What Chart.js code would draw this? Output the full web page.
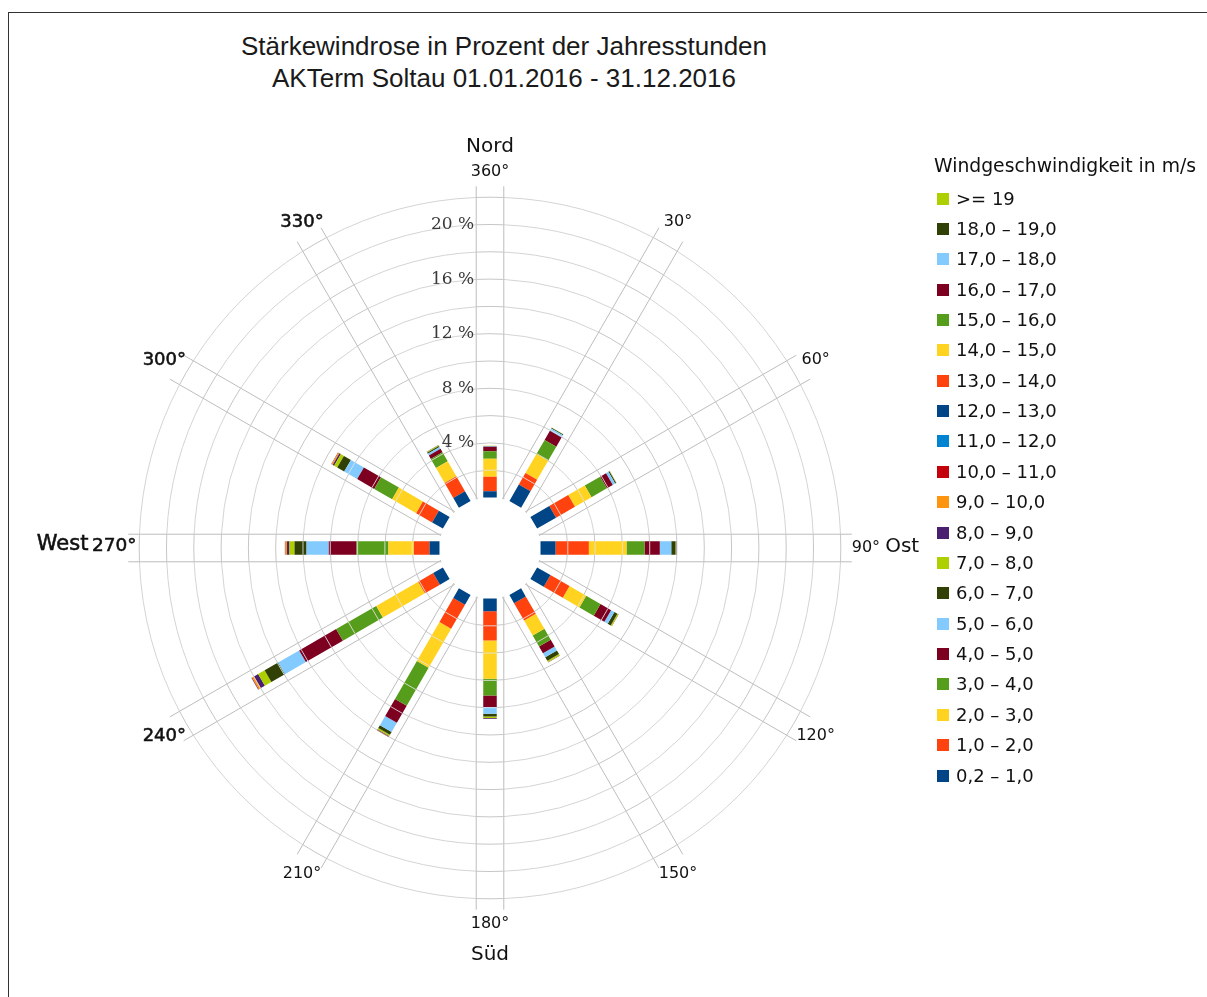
<!DOCTYPE html>
<html>
<head>
<meta charset="utf-8">
<script src="https://cdn.jsdelivr.net/npm/chart.js@4.4.0/dist/chart.umd.min.js"></script>
<style>
  html, body { margin:0; padding:0; background:#fff; width:1207px; height:997px; overflow:hidden; }
  #frame { position:absolute; left:8px; top:12px; width:1400px; height:1200px; border-left:1px solid #333; border-top:1px solid #333; }
  #c { position:absolute; left:0; top:0; }
  #title { position:absolute; left:4px; top:30px; width:1000px; text-align:center; font-family:"Liberation Sans", Arial, sans-serif; font-size:26px; line-height:32px; color:#1a1a1a; }
  .lg { position:absolute; font-family:"DejaVu Sans", sans-serif; font-size:18px; line-height:22px; color:#111; white-space:nowrap; }
  .lgh { font-size:18.8px; }
  .sw { position:absolute; width:12px; height:12px; }
</style>
</head>
<body>
<div id="frame"></div>
<div id="title">Stärkewindrose in Prozent der Jahresstunden<br>AKTerm Soltau 01.01.2016 - 31.12.2016</div>
<canvas id="c" width="1207" height="997"></canvas>
<div id="legend"></div>
<script>
// ---------- DATA ----------
const directions = [0, 30, 60, 90, 120, 150, 180, 210, 240, 270, 300, 330];
const dirLabels = ['360°', '30°', '60°', '90°', '120°', '150°', '180°', '210°', '240°', '270°', '300°', '330°'];
const compassLabels = ['Nord', 'Ost', 'Süd', 'West'];
const legendTitle = 'Windgeschwindigkeit in m/s';
const speedClasses = ['0,2 – 1,0', '1,0 – 2,0', '2,0 – 3,0', '3,0 – 4,0', '4,0 – 5,0', '5,0 – 6,0',
  '6,0 – 7,0', '7,0 – 8,0', '8,0 – 9,0', '9,0 – 10,0', '10,0 – 11,0', '11,0 – 12,0', '12,0 – 13,0',
  '13,0 – 14,0', '14,0 – 15,0', '15,0 – 16,0', '16,0 – 17,0', '17,0 – 18,0', '18,0 – 19,0', '>= 19'];
const gridSteps = [2, 4, 6, 8, 10, 12, 14, 16, 18, 20, 22];
const tickSteps = [4, 8, 12, 16, 20];

// percent of year hours per direction (order = directions)
const p0_1   = [0.46, 1.38, 1.60, 1.10, 1.13, 0.68, 0.93, 0.82, 0.82, 0.73, 0.91, 0.82];
const p1_2   = [1.06, 0.97, 1.60, 2.44, 1.61, 1.47, 2.15, 2.03, 1.27, 1.14, 1.35, 1.27];
const p2_3   = [1.32, 1.61, 1.40, 2.76, 1.41, 1.26, 2.80, 3.30, 3.55, 1.87, 2.03, 1.26];
const p3_4   = [0.55, 1.20, 1.30, 1.32, 1.21, 0.93, 1.23, 3.21, 3.39, 2.34, 1.52, 0.77];
const p4_5   = [0.32, 0.77, 0.50, 1.12, 0.90, 0.57, 0.84, 1.44, 3.13, 2.03, 1.44, 0.28];
const p5_6   = [0.05, 0.20, 0.20, 0.84, 0.28, 0.34, 0.50, 0.77, 1.78, 1.63, 1.10, 0.15];
const p6_7   = [0.02, 0.05, 0.08, 0.31, 0.25, 0.30, 0.20, 0.25, 1.14, 0.88, 0.59, 0.10];
const p7_8   = [0.01, 0.02, 0.03, 0.04, 0.08, 0.10, 0.10, 0.10, 0.55, 0.37, 0.26, 0.05];
const p8_9   = [0.00, 0.01, 0.01, 0.02, 0.02, 0.03, 0.05, 0.05, 0.34, 0.18, 0.12, 0.02];
const p9_10  = [0.00, 0.00, 0.00, 0.01, 0.01, 0.01, 0.02, 0.02, 0.16, 0.11, 0.09, 0.01];
const p10_11 = [0, 0, 0, 0, 0, 0, 0, 0.01, 0.05, 0.04, 0.03, 0];
const p11_12 = [0, 0, 0, 0, 0, 0, 0, 0, 0.02, 0.01, 0.01, 0];
const p12_13 = [0, 0, 0, 0, 0, 0, 0, 0, 0, 0, 0, 0];
const p13_14 = [0, 0, 0, 0, 0, 0, 0, 0, 0, 0, 0, 0];
const p14_15 = [0, 0, 0, 0, 0, 0, 0, 0, 0, 0, 0, 0];
const p15_16 = [0, 0, 0, 0, 0, 0, 0, 0, 0, 0, 0, 0];
const p16_17 = [0, 0, 0, 0, 0, 0, 0, 0, 0, 0, 0, 0];
const p17_18 = [0, 0, 0, 0, 0, 0, 0, 0, 0, 0, 0, 0];
const p18_19 = [0, 0, 0, 0, 0, 0, 0, 0, 0, 0, 0, 0];
const p19    = [0, 0, 0, 0, 0, 0, 0, 0, 0, 0, 0, 0];
const seriesValues = [p0_1, p1_2, p2_3, p3_4, p4_5, p5_6, p6_7, p7_8, p8_9, p9_10, p10_11, p11_12,
  p12_13, p13_14, p14_15, p15_16, p16_17, p17_18, p18_19, p19];

// ---------- STYLE / GEOMETRY ----------
const classColors = ['#004586', '#ff420e', '#ffd320', '#579d1c', '#7e0021', '#83caff', '#314004', '#aecf00',
  '#4b1f6f', '#ff950e', '#c5000b', '#0084d1', '#004586', '#ff420e', '#ffd320', '#579d1c', '#7e0021',
  '#83caff', '#314004', '#aecf00'];
const W = 1207, H = 997;
const CX = 490, CY = 548;      // pole position on the page
const PX = 13.65;              // pixels per percent
const HOLE = 3.7;              // empty centre, in percent units
const BAND = 1.01;             // half width of a direction band, percent units
const BAR = 13.5;              // bar thickness, px
const SPOKE_EXT = 0.8;         // spoke overhang beyond outer ring
const LABEL_R = 27.55;         // direction label radius

// ---------- DATASETS ----------
const rad = d => d * Math.PI / 180;
const datasets = seriesValues.map((vals, k) => {
  const data = [];
  directions.forEach((deg, d) => {
    const v = vals[d];
    if (!(v > 0)) return;
    let base = HOLE;
    for (let j = 0; j < k; j++) base += seriesValues[j][d];
    const t = rad(deg);
    data.push({ x: base * Math.sin(t), y: base * Math.cos(t) });
    data.push({ x: (base + v) * Math.sin(t), y: (base + v) * Math.cos(t) });
    data.push({ x: null, y: null });
  });
  return {
    label: speedClasses[k], data, showLine: true, spanGaps: false,
    borderColor: classColors[k], backgroundColor: classColors[k],
    borderWidth: BAR, borderCapStyle: 'butt', borderJoinStyle: 'bevel',
    borderDash: [100000, 1],   // forces the plain path renderer (no x-sorted fast path)
    pointRadius: 0, pointHoverRadius: 0, tension: 0, clip: false
  };
});

function geom(chart) {
  const x = chart.scales.x, y = chart.scales.y;
  const cx = x.getPixelForValue(0), cy = y.getPixelForValue(0);
  const u = x.getPixelForValue(1) - cx;
  return { cx, cy, u };
}

const rosePlugin = {
  id: 'rose',
  beforeDatasetsDraw(chart) {
    const { ctx } = chart;
    const g = geom(chart);
    const b = BAND * g.u;
    ctx.save();
    // rings between bands
    ctx.strokeStyle = '#d4d4d4';
    ctx.lineWidth = 1;
    gridSteps.forEach(v => {
      const r = (HOLE + v) * g.u;
      const a = Math.asin(b / r);
      directions.forEach((deg, i) => {
        const next = i === directions.length - 1 ? directions[0] + 360 : directions[i + 1];
        ctx.beginPath();
        ctx.arc(g.cx, g.cy, r, rad(deg - 90) + a, rad(next - 90) - a);
        ctx.stroke();
      });
    });
    // band edges and cross ticks
    const gmax = gridSteps[gridSteps.length - 1];
    directions.forEach(deg => {
      const t = rad(deg);
      const ux = Math.sin(t), uy = -Math.cos(t), nx = Math.cos(t), ny = Math.sin(t);
      const hole = HOLE * g.u;
      const r0 = Math.sqrt(hole * hole - b * b);
      const r1 = (HOLE + gmax + SPOKE_EXT) * g.u;
      ctx.strokeStyle = '#bdbdbd';
      [-1, 1].forEach(s => {
        ctx.beginPath();
        ctx.moveTo(g.cx + r0 * ux + s * b * nx, g.cy + r0 * uy + s * b * ny);
        ctx.lineTo(g.cx + r1 * ux + s * b * nx, g.cy + r1 * uy + s * b * ny);
        ctx.stroke();
      });
      ctx.strokeStyle = '#c6c6c6';
      gridSteps.forEach(v => {
        const r = (HOLE + v) * g.u;
        const rr = Math.sqrt(r * r - b * b);
        ctx.beginPath();
        ctx.moveTo(g.cx + rr * ux - b * nx, g.cy + rr * uy - b * ny);
        ctx.lineTo(g.cx + r * ux, g.cy + r * uy);
        ctx.lineTo(g.cx + rr * ux + b * nx, g.cy + rr * uy + b * ny);
        ctx.stroke();
      });
    });
    ctx.restore();
  },
  afterDatasetsDraw(chart) {
    const { ctx } = chart;
    const g = geom(chart);
    const hb = BAR / 2;
    ctx.save();
    ctx.strokeStyle = 'rgba(228,228,228,0.85)';
    ctx.lineWidth = 1;
    directions.forEach((deg, d) => {
      let total = 0;
      seriesValues.forEach(s => total += s[d]);
      const t = rad(deg);
      const ux = Math.sin(t), uy = -Math.cos(t), nx = Math.cos(t), ny = Math.sin(t);
      gridSteps.forEach(v => {
        if (v >= total) return;
        const r = (HOLE + v) * g.u;
        ctx.beginPath();
        ctx.moveTo(g.cx + r * ux - hb * nx, g.cy + r * uy - hb * ny);
        ctx.lineTo(g.cx + r * ux + hb * nx, g.cy + r * uy + hb * ny);
        ctx.stroke();
      });
    });
    ctx.restore();
  },
  afterDraw(chart) {
    const { ctx } = chart;
    const g = geom(chart);
    const heavy = (txt, x, y) => { ctx.fillText(txt, x, y); ctx.strokeText(txt, x, y); };
    ctx.save();
    // radial tick labels
    ctx.font = '17px "DejaVu Serif", serif';
    ctx.fillStyle = '#3a3a3a';
    ctx.textAlign = 'right';
    ctx.textBaseline = 'middle';
    tickSteps.forEach(v => {
      ctx.fillText(v + ' %', g.cx - BAND * g.u - 2, g.cy - (HOLE + v) * g.u);
    });
    // direction labels
    ctx.fillStyle = '#111';
    ctx.strokeStyle = '#111';
    ctx.lineWidth = 0.55;
    ctx.textAlign = 'center';
    directions.forEach((deg, i) => {
      const t = rad(deg);
      if (deg === 90) {
        const x0 = g.cx + 26.5 * g.u;
        ctx.textAlign = 'left';
        ctx.font = '16px "DejaVu Sans", sans-serif';
        ctx.fillText(dirLabels[i], x0, g.cy);
        const w = ctx.measureText(dirLabels[i] + ' ').width;
        ctx.font = '20px "DejaVu Sans", sans-serif';
        ctx.fillText(compassLabels[1], x0 + w, g.cy - 1);
        ctx.textAlign = 'center';
        return;
      }
      if (deg === 270) {
        const x1 = g.cx - 25.9 * g.u;
        ctx.textAlign = 'right';
        ctx.font = '18.5px "DejaVu Sans", sans-serif';
        heavy(dirLabels[i], x1, g.cy - 2);
        const w = ctx.measureText(dirLabels[i]).width;
        ctx.font = '21px "DejaVu Sans", sans-serif';
        heavy(compassLabels[3], x1 - w - 3.5, g.cy - 3);
        ctx.textAlign = 'center';
        return;
      }
      const px = g.cx + LABEL_R * g.u * Math.sin(t), py = g.cy - LABEL_R * g.u * Math.cos(t);
      if (deg > 210) {
        ctx.font = '18px "DejaVu Sans", sans-serif';
        heavy(dirLabels[i], px, py);
      } else {
        ctx.font = '16px "DejaVu Sans", sans-serif';
        ctx.fillText(dirLabels[i], px, py);
      }
    });
    ctx.font = '20px "DejaVu Sans", sans-serif';
    ctx.fillText(compassLabels[0], g.cx, g.cy - 29.4 * g.u);
    ctx.fillText(compassLabels[2], g.cx, g.cy + 29.8 * g.u);
    ctx.restore();
  }
};

new Chart(document.getElementById('c'), {
  type: 'scatter',
  data: { datasets },
  options: {
    responsive: false,
    animation: false,
    events: [],
    layout: { padding: 0, autoPadding: false },
    plugins: { legend: { display: false }, title: { display: false }, tooltip: { enabled: false } },
    scales: {
      x: { type: 'linear', min: -CX / PX, max: (W - CX) / PX, display: false },
      y: { type: 'linear', min: -(H - CY) / PX, max: CY / PX, display: false }
    }
  },
  plugins: [rosePlugin]
});

// ---------- LEGEND (HTML, built from the class arrays) ----------
const lg = document.getElementById('legend');
const head = document.createElement('div');
head.className = 'lg lgh';
head.style.left = '934px';
head.style.top = '155px';
head.textContent = legendTitle;
lg.appendChild(head);
for (let j = 0; j < speedClasses.length; j++) {
  const k = speedClasses.length - 1 - j;
  const yc = 198.5 + 30.37 * j;
  const sw = document.createElement('div');
  sw.className = 'sw';
  sw.style.left = '937px';
  sw.style.top = (yc - 6) + 'px';
  sw.style.background = classColors[k];
  lg.appendChild(sw);
  const tx = document.createElement('div');
  tx.className = 'lg';
  tx.style.left = '956px';
  tx.style.top = (yc - 11) + 'px';
  tx.textContent = speedClasses[k];
  lg.appendChild(tx);
}
</script>
</body>
</html>
